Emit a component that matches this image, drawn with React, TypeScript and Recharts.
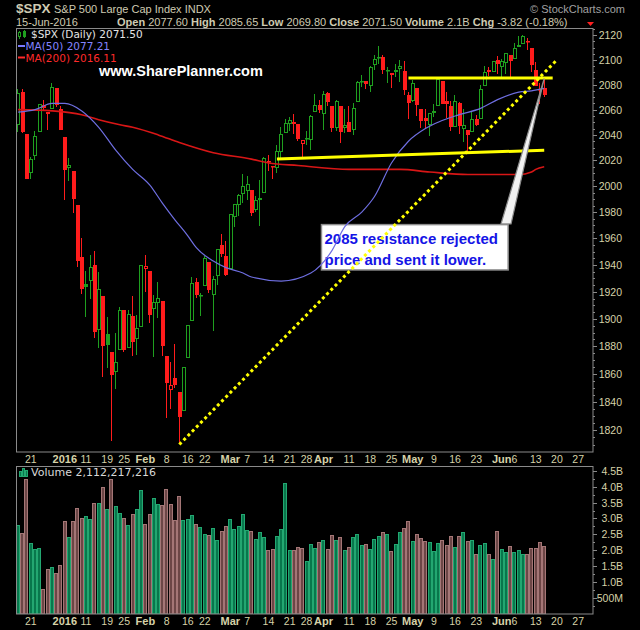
import React from "react";
import {
  ComposedChart,
  Bar,
  Line,
  XAxis,
  YAxis,
  ReferenceLine,
  ReferenceArea,
} from "recharts";

// ---------- data ----------
const tradeDates = [
  "12-16", "12-17", "12-18", "12-21", "12-22", "12-23", "12-24", "12-28", "12-29", "12-30", "12-31",
  "01-04", "01-05", "01-06", "01-07", "01-08", "01-11", "01-12", "01-13", "01-14", "01-15",
  "01-19", "01-20", "01-21", "01-22", "01-25", "01-26", "01-27", "01-28", "01-29",
  "02-01", "02-02", "02-03", "02-04", "02-05", "02-08", "02-09", "02-10", "02-11", "02-12",
  "02-16", "02-17", "02-18", "02-19", "02-22", "02-23", "02-24", "02-25", "02-26", "02-29",
  "03-01", "03-02", "03-03", "03-04", "03-07", "03-08", "03-09", "03-10", "03-11",
  "03-14", "03-15", "03-16", "03-17", "03-18", "03-21", "03-22", "03-23", "03-24",
  "03-28", "03-29", "03-30", "03-31",
  "04-01", "04-04", "04-05", "04-06", "04-07", "04-08", "04-11", "04-12", "04-13", "04-14", "04-15",
  "04-18", "04-19", "04-20", "04-21", "04-22", "04-25", "04-26", "04-27", "04-28", "04-29",
  "05-02", "05-03", "05-04", "05-05", "05-06", "05-09", "05-10", "05-11", "05-12", "05-13",
  "05-16", "05-17", "05-18", "05-19", "05-20", "05-23", "05-24", "05-25", "05-26", "05-27", "05-31",
  "06-01", "06-02", "06-03", "06-06", "06-07", "06-08", "06-09", "06-10", "06-13", "06-14", "06-15",
];
// empty sessions on the right of the axis
const futureDates = ["06-16", "06-17", "06-20", "06-21", "06-22", "06-23", "06-24", "06-27", "06-28", "06-29", "06-30"];

const opens = [
  2047.9, 2073.8, 2040.8, 2010.3, 2023.2, 2042.2, 2063.5, 2057.8, 2060.5, 2077.3, 2060.6,
  2038.2, 2013.8, 2011.7, 1985.3, 1946.0, 1926.1, 1927.8, 1940.3, 1891.7, 1916.7, 1888.7, 1876.2, 1861.5, 1877.4, 1906.3, 1878.8, 1902.5, 1885.2, 1894.0,
  1936.9, 1935.3, 1907.1, 1911.7, 1913.1, 1873.3, 1848.5, 1857.1, 1847.0, 1833.4, 1871.4, 1898.8, 1927.6, 1916.7, 1924.4, 1942.4, 1917.6, 1931.9, 1955.0, 1947.1,
  1937.1, 1976.6, 1985.6, 1994.0, 1996.1, 1996.9, 1981.4, 1991.0, 1994.7, 2019.3, 2015.3, 2014.2, 2026.9, 2041.2, 2048.6, 2048.6, 2048.6, 2032.5, 2037.9, 2035.8, 2058.3, 2063.8,
  2056.6, 2073.2, 2062.5, 2045.6, 2063.0, 2045.5, 2050.2, 2043.7, 2065.9, 2082.9, 2083.1, 2078.8, 2096.1, 2101.5, 2102.1, 2091.5, 2089.4, 2089.8, 2092.6, 2090.9, 2071.8,
  2067.2, 2077.2, 2060.3, 2053.0, 2047.8, 2057.6, 2062.6, 2083.3, 2067.2, 2062.5, 2046.5, 2065.0, 2044.4, 2044.2, 2041.9, 2052.2, 2052.7, 2078.9, 2091.4, 2090.1, 2100.1,
  2093.9, 2097.7, 2104.1, 2100.8, 2110.2, 2112.7, 2115.7, 2109.6, 2091.8, 2076.7, 2077.6,
];
const highs = [
  2076.7, 2076.4, 2040.8, 2022.9, 2042.7, 2064.7, 2067.4, 2057.8, 2081.6, 2077.3, 2062.5,
  2038.2, 2021.9, 2011.7, 1985.3, 1960.4, 1935.7, 1947.4, 1950.3, 1934.5, 1916.7, 1901.4, 1876.2, 1889.9, 1908.9, 1906.3, 1906.7, 1917.0, 1903.0, 1940.2,
  1947.2, 1935.3, 1918.0, 1927.4, 1913.1, 1873.3, 1868.3, 1881.6, 1847.0, 1864.8, 1895.8, 1930.7, 1930.0, 1918.8, 1946.7, 1942.4, 1932.1, 1951.8, 1963.0, 1958.3,
  1978.4, 1986.5, 1993.7, 2009.1, 2008.2, 1996.9, 1992.7, 2005.1, 2022.4, 2024.6, 2015.9, 2032.0, 2046.2, 2052.4, 2053.9, 2056.6, 2048.6, 2036.0, 2042.7, 2055.9, 2072.2, 2067.9,
  2075.1, 2074.0, 2062.5, 2067.3, 2063.0, 2060.6, 2062.9, 2065.1, 2083.2, 2087.8, 2083.2, 2094.7, 2104.1, 2111.1, 2103.8, 2094.3, 2089.4, 2096.9, 2099.9, 2099.3, 2073.9,
  2083.4, 2077.2, 2060.3, 2060.2, 2057.7, 2064.2, 2084.9, 2083.3, 2074.0, 2066.8, 2071.9, 2065.7, 2060.6, 2044.2, 2058.4, 2055.6, 2079.7, 2094.7, 2094.3, 2099.1, 2103.5,
  2101.0, 2105.3, 2104.1, 2113.4, 2119.2, 2120.6, 2117.6, 2109.6, 2098.1, 2081.3, 2085.7,
];
const lows = [
  2042.4, 2041.7, 2005.3, 2005.9, 2020.5, 2042.2, 2058.7, 2044.2, 2060.5, 2062.0, 2043.6,
  1989.7, 2004.2, 1979.1, 1938.8, 1918.5, 1901.1, 1914.4, 1886.4, 1878.9, 1857.8, 1864.6, 1812.3, 1849.0, 1877.4, 1876.0, 1878.8, 1872.7, 1873.7, 1894.0,
  1920.0, 1897.3, 1872.2, 1900.5, 1872.7, 1828.5, 1834.9, 1850.3, 1810.1, 1833.4, 1871.4, 1898.8, 1915.1, 1902.2, 1924.4, 1919.4, 1891.0, 1925.4, 1945.8, 1931.8,
  1937.1, 1968.8, 1977.4, 1986.8, 1989.3, 1977.4, 1979.8, 1969.3, 1994.7, 2012.1, 2005.2, 2010.0, 2022.2, 2041.2, 2043.1, 2040.6, 2034.9, 2022.5, 2032.0, 2028.3, 2058.3, 2057.5,
  2044.0, 2062.6, 2042.6, 2043.1, 2033.8, 2041.7, 2041.9, 2039.7, 2065.9, 2078.1, 2076.3, 2073.7, 2091.7, 2096.3, 2088.5, 2081.2, 2077.5, 2085.8, 2082.3, 2071.6, 2052.3,
  2066.1, 2054.9, 2045.6, 2045.8, 2039.5, 2054.3, 2062.6, 2064.5, 2053.1, 2043.1, 2046.5, 2040.8, 2034.5, 2025.9, 2041.9, 2047.3, 2052.7, 2078.9, 2087.1, 2090.1, 2088.7,
  2085.1, 2088.6, 2085.4, 2100.8, 2110.2, 2112.7, 2107.7, 2090.0, 2078.5, 2064.1, 2069.8,
];
const closes = [
  2073.1, 2041.9, 2005.6, 2021.2, 2039.0, 2064.3, 2061.0, 2056.5, 2078.4, 2063.4, 2043.9,
  2012.7, 2016.7, 1990.3, 1943.1, 1922.0, 1923.7, 1938.7, 1890.3, 1921.8, 1880.3, 1881.3, 1859.3, 1869.0, 1906.9, 1877.1, 1903.6, 1883.0, 1893.4, 1940.2,
  1939.4, 1903.0, 1912.5, 1915.5, 1880.1, 1853.4, 1852.2, 1851.9, 1829.1, 1864.8, 1895.6, 1926.8, 1917.8, 1917.8, 1945.5, 1921.3, 1929.8, 1951.7, 1948.1, 1932.2,
  1978.4, 1986.5, 1993.4, 2000.0, 2001.8, 1979.3, 1989.3, 1989.6, 2022.2, 2019.6, 2015.9, 2027.2, 2040.6, 2049.6, 2051.6, 2049.8, 2036.7, 2035.9, 2037.1, 2055.0, 2064.0, 2059.7,
  2072.8, 2066.1, 2045.2, 2066.7, 2041.9, 2047.6, 2042.0, 2061.7, 2082.4, 2082.8, 2080.7, 2094.3, 2100.8, 2102.4, 2091.5, 2091.6, 2087.8, 2091.7, 2095.2, 2075.8, 2065.3,
  2081.4, 2063.4, 2051.1, 2050.6, 2057.1, 2058.7, 2084.4, 2064.5, 2064.1, 2046.6, 2066.7, 2047.2, 2047.6, 2040.0, 2052.3, 2048.0, 2076.1, 2090.5, 2090.1, 2099.1, 2097.0,
  2099.3, 2105.3, 2099.1, 2109.4, 2112.1, 2119.1, 2115.5, 2096.1, 2079.1, 2075.3, 2071.5,
];
const priorClose = 2043.4;

// volume, billions of shares
const volumes = [
  2.79, 2.54, 4.24, 2.22, 2.03, 2.06, 0.78, 1.4, 1.47, 1.28, 1.53,
  2.91, 2.41, 2.91, 3.32, 3.01, 3.07, 2.98, 3.48, 3.48, 3.98, 3.29, 4.24, 3.39, 3.17, 3.01, 2.79, 3.14, 3.29, 3.89,
  2.82, 3.14, 3.64, 3.45, 3.42, 3.92, 3.45, 2.94, 3.7, 2.94, 2.98, 3.1, 2.82, 2.73, 2.5, 2.47, 2.69, 2.32, 2.6, 2.76,
  2.98, 2.66, 2.76, 3.14, 2.63, 2.6, 2.35, 2.57, 2.41, 2.0, 2.03, 2.44, 2.66, 4.12, 2.0, 2.0, 2.09, 2.06, 1.66, 2.19, 2.06, 2.25,
  2.32, 2.03, 2.47, 2.32, 2.41, 2.0, 2.09, 2.41, 2.5, 2.16, 2.19, 2.03, 2.35, 2.44, 2.57, 2.5, 1.97, 2.19, 2.57, 2.69, 2.91,
  2.28, 2.5, 2.38, 2.28, 2.25, 1.97, 2.22, 2.32, 2.16, 2.44, 2.09, 2.44, 2.57, 2.28, 2.32, 1.87, 2.16, 2.22, 1.87, 1.72, 2.6,
  2.03, 1.94, 2.13, 1.94, 2.0, 1.87, 1.87, 2.06, 2.06, 2.25, 2.13,
];

const ma50Points: [string, number][] = [
  ["12-16", 2058], ["12-22", 2060], ["12-29", 2065], ["01-04", 2065], ["01-08", 2059],
  ["01-14", 2046], ["01-21", 2028], ["01-27", 2013], ["02-02", 2001], ["02-05", 1987],
  ["02-10", 1974], ["02-16", 1962], ["02-18", 1953], ["02-24", 1943], ["02-29", 1938],
  ["03-04", 1934], ["03-08", 1931], ["03-17", 1928], ["03-29", 1934], ["04-05", 1951],
  ["04-08", 1969], ["04-14", 1980], ["04-19", 1992], ["04-25", 2018], ["04-29", 2035],
  ["05-05", 2045], ["05-10", 2050], ["05-17", 2056], ["05-24", 2061], ["05-31", 2068],
  ["06-07", 2074], ["06-10", 2075], ["06-15", 2077],
];
const ma200Points: [string, number][] = [
  ["12-16", 2060], ["12-29", 2059], ["01-08", 2056], ["01-14", 2052], ["01-22", 2048],
  ["01-27", 2046], ["02-04", 2040], ["02-11", 2034], ["02-24", 2026], ["03-08", 2021],
  ["03-14", 2018], ["03-23", 2016], ["04-11", 2013], ["04-27", 2013], ["05-06", 2011],
  ["05-19", 2009], ["06-07", 2009], ["06-10", 2011], ["06-13", 2013], ["06-15", 2015],
];

const tickDates = [
  "12-21", "01-04", "01-11", "01-19", "01-25", "02-01", "02-08", "02-16", "02-22",
  "03-01", "03-07", "03-14", "03-21", "03-28", "04-01", "04-11", "04-18", "04-25",
  "05-02", "05-09", "05-16", "05-23", "06-01", "06-06", "06-13", "06-20", "06-27",
];
const tickTexts = [
  "21", "2016", "11", "19", "25", "Feb", "8", "16", "22",
  "Mar", "7", "14", "21", "28", "Apr", "11", "18", "25",
  "May", "9", "16", "23", "Jun", "6", "13", "20", "27",
];
const boldTicks = ["2016", "Feb", "Mar", "Apr", "May", "Jun"];

const priceLabels = [1820, 1840, 1860, 1880, 1900, 1920, 1940, 1960, 1980, 2000, 2020, 2040, 2060, 2080, 2100, 2120];
const volLabels = [0.5, 1.0, 1.5, 2.0, 2.5, 3.0, 3.5, 4.0, 4.5];

// drawn annotations
const resistance = { from: "04-29", to: "06-17", level: 2085.3 };
const support = { from: "03-16", to: "06-15", start: 2021, end: 2028 };
const trend = { from: "02-11", to: "06-20", start: 1810, end: 2100 };
const callout = { from: "04-01", to: "06-02", low: 1936.3, high: 1970.5, tip: 2085, base: 1971 };

// ---------- styling ----------
const BG = "#000000";
const FRAME = "#8a8a8a";
const AXIS_TEXT = "#d6d2a8";
const UP = "#1f9f1f";
const DOWN = "#ff1c1c";
const VOL_UP = "#08774c";
const VOL_UP_EDGE = "#23a771";
const VOL_DN = "#6c4646";
const VOL_DN_EDGE = "#a47676";
const SANS = "'Liberation Sans', Arial, sans-serif";
const DEJAVU = "'DejaVu Sans', sans-serif";

const ma50Map = new Map(ma50Points);
const ma200Map = new Map(ma200Points);
const allDates = [...tradeDates, ...futureDates];

const priceRows = allDates.map((date, i) => {
  const base = { date, ma50: ma50Map.get(date) ?? null, ma200: ma200Map.get(date) ?? null };
  if (i >= closes.length) return base;
  const prev = i > 0 ? closes[i - 1] : priorClose;
  return { ...base, open: opens[i], high: highs[i], low: lows[i], close: closes[i], up: closes[i] >= prev };
});

const volRows = allDates.map((date, i) => {
  if (i >= volumes.length) return { date, vol: null };
  const prev = i > 0 ? closes[i - 1] : priorClose;
  return { date, vol: volumes[i], up: closes[i] >= prev };
});

const priceTicks: number[] = [];
for (let v = 1810; v <= 2125; v += 5) priceTicks.push(v);
const volTicks: number[] = [];
for (let v = 0.25; v <= 4.6; v += 0.25) volTicks.push(Math.round(v * 100) / 100);

// ---------- marks ----------
const Candle = (props: any) => {
  const { x, y, width, height, payload } = props;
  if (!payload || payload.high == null || !isFinite(y) || !isFinite(height)) return <g />;
  const { open, close, high, low, up } = payload;
  const yTop = Math.min(y, y + height);
  const h = Math.abs(height);
  const k = h / Math.log(high / low);
  const py = (p: number) => yTop + k * Math.log(high / p);
  const n = Math.floor(x + width / 2);
  const color = up ? UP : DOWN;
  const top = Math.round(py(Math.max(open, close)));
  const bot = Math.round(py(Math.min(open, close)));
  const hollow = close > open;
  const wx = n + 0.5;
  return (
    <g>
      <line x1={wx} x2={wx} y1={Math.round(yTop)} y2={top} stroke={color} strokeWidth={1} />
      <line x1={wx} x2={wx} y1={bot} y2={Math.round(yTop + h)} stroke={color} strokeWidth={1} />
      <rect
        x={n - 0.5}
        y={top + 0.5}
        width={3}
        height={Math.max(bot - top - 1, 0.5)}
        fill={hollow ? BG : color}
        stroke={color}
        strokeWidth={1}
      />
    </g>
  );
};

const VolBar = (props: any) => {
  const { x, y, width, height, payload, background } = props;
  if (!payload || payload.vol == null || !isFinite(y)) return <g />;
  const cx = x + width / 2;
  const half = (background && isFinite(background.width) ? background.width : width) / 2;
  const l = Math.round(cx - half);
  const r = Math.round(cx + half);
  const t = Math.round(y);
  const b = Math.round(y + height);
  return (
    <rect
      x={l + 0.5}
      y={t + 0.5}
      width={Math.max(r - l - 1, 1)}
      height={Math.max(b - t - 0.5, 0)}
      fill={payload.up ? VOL_UP : VOL_DN}
      stroke={payload.up ? VOL_UP_EDGE : VOL_DN_EDGE}
      strokeWidth={1}
    />
  );
};

const DateTick = (props: any) => {
  const { x, y, payload } = props;
  const idx = tickDates.indexOf(payload.value);
  if (idx < 0) return <g />;
  const label = tickTexts[idx];
  const bold = boldTicks.includes(label);
  return (
    <text
      x={x}
      y={y + 11}
      textAnchor="middle"
      fill={AXIS_TEXT}
      fontSize={bold ? 11 : 10.5}
      fontWeight={bold ? 700 : 400}
      fontFamily={SANS}
    >
      {label}
    </text>
  );
};

const PriceTick = (props: any) => {
  const { x, y, payload } = props;
  const major = priceLabels.includes(payload.value);
  return (
    <g>
      <line x1={x} x2={x + (major ? 4 : 2)} y1={Math.round(y) + 0.5} y2={Math.round(y) + 0.5} stroke={FRAME} />
      {major && (
        <text x={622} y={y + 4} textAnchor="end" fill={AXIS_TEXT} fontSize={10.5} fontFamily={SANS}>
          {payload.value}
        </text>
      )}
    </g>
  );
};

const VolTick = (props: any) => {
  const { x, y, payload } = props;
  const major = volLabels.includes(payload.value);
  const label = payload.value === 0.5 ? "500M" : `${payload.value.toFixed(1)}B`;
  return (
    <g>
      <line x1={x} x2={x + (major ? 4 : 2)} y1={Math.round(y) + 0.5} y2={Math.round(y) + 0.5} stroke={FRAME} />
      {major && (
        <text x={623} y={y + 4} textAnchor="end" fill={AXIS_TEXT} fontSize={10.5} fontFamily={SANS}>
          {label}
        </text>
      )}
    </g>
  );
};

const Pointer = (props: any) => {
  const { x1, y1, x2, y2 } = props;
  if (![x1, y1, x2, y2].every((v) => isFinite(v))) return <g />;
  return (
    <polygon
      points={`${x1},${y1} ${x2 - 5},${y2} ${x2 + 5},${y2}`}
      fill="#f2f2f2"
      stroke="#8c8c8c"
      strokeWidth={1.2}
    />
  );
};

const CalloutBox = (props: any) => {
  const { x, y, width, height } = props;
  if (![x, y, width, height].every((v) => isFinite(v))) return <g />;
  return (
    <g>
      <rect x={x} y={y} width={width} height={height} fill="#ffffff" stroke="#8c8c8c" strokeWidth={1.5} />
      <text x={x + 3} y={y + 19} fill="#1414e6" fontSize={15} fontWeight={700} fontFamily={SANS}>
        2085 resistance rejected
      </text>
      <text x={x + 3} y={y + 40} fill="#1414e6" fontSize={15} fontWeight={700} fontFamily={SANS}>
        price and sent it lower.
      </text>
    </g>
  );
};

export default function App() {
  return (
    <div style={{ position: "absolute", left: 0, top: 0, width: 640, height: 630, background: BG, overflow: "hidden" }}>
      <div style={{ position: "absolute", left: 0, top: 0 }}>
        <ComposedChart width={640} height={468} data={priceRows} margin={{ top: 28, right: 0, bottom: 0, left: 16 }}>
          <XAxis
            dataKey="date"
            height={16}
            ticks={tickDates}
            interval={0}
            tick={<DateTick />}
            tickSize={0}
            tickMargin={0}
            axisLine={false}
            tickLine={false}
          />
          <YAxis
            orientation="right"
            width={47}
            scale="log"
            domain={[1804.8, 2126]}
            allowDataOverflow
            ticks={priceTicks}
            interval={0}
            tick={<PriceTick />}
            tickSize={0}
            tickMargin={0}
            axisLine={false}
            tickLine={false}
          />
          <Line dataKey="ma200" stroke="#d81616" strokeWidth={1.6} dot={false} connectNulls type="monotone" isAnimationActive={false} />
          <Line dataKey="ma50" stroke="#6e6ee0" strokeWidth={1.2} dot={false} connectNulls type="monotone" isAnimationActive={false} />
          <Bar
            dataKey={(d: any) => (d.high == null ? null : [d.low, d.high])}
            shape={<Candle />}
            isAnimationActive={false}
          />
          <ReferenceLine
            segment={[{ x: support.from, y: support.start }, { x: support.to, y: support.end }]}
            stroke="#ffff00"
            strokeWidth={3}
          />
          <ReferenceLine
            segment={[{ x: resistance.from, y: resistance.level }, { x: resistance.to, y: resistance.level }]}
            stroke="#ffff00"
            strokeWidth={3}
          />
          <ReferenceLine
            segment={[{ x: trend.from, y: trend.start }, { x: trend.to, y: trend.end }]}
            stroke="#ffff00"
            strokeWidth={3}
            strokeDasharray="3 3"
          />
          <ReferenceLine
            segment={[{ x: "06-15", y: callout.tip }, { x: callout.to, y: callout.base }]}
            shape={(p: any) => <Pointer {...p} />}
          />
          <ReferenceArea
            x1={callout.from}
            x2={callout.to}
            y1={callout.low}
            y2={callout.high}
            shape={(p: any) => <CalloutBox {...p} />}
          />
        </ComposedChart>
      </div>

      <div style={{ position: "absolute", left: 0, top: 466 }}>
        <ComposedChart
          width={640}
          height={164}
          data={volRows}
          margin={{ top: 0, right: 0, bottom: 0, left: 16 }}
          barCategoryGap="0%"
          barGap={0}
        >
          <XAxis
            dataKey="date"
            height={16}
            ticks={tickDates}
            interval={0}
            tick={<DateTick />}
            tickSize={0}
            tickMargin={0}
            axisLine={false}
            tickLine={false}
          />
          <YAxis
            orientation="right"
            width={47}
            domain={[0, 4.648]}
            allowDataOverflow
            ticks={volTicks}
            interval={0}
            tick={<VolTick />}
            tickSize={0}
            tickMargin={0}
            axisLine={false}
            tickLine={false}
          />
          <Bar dataKey="vol" shape={<VolBar />} isAnimationActive={false} />
        </ComposedChart>
      </div>

      <svg width={640} height={630} style={{ position: "absolute", left: 0, top: 0, pointerEvents: "none" }}>
        <rect x={16.5} y={28.5} width={576.5} height={423.5} fill="none" stroke={FRAME} strokeWidth={1} />
        <rect x={16.5} y={466.5} width={576.5} height={147.5} fill="none" stroke={FRAME} strokeWidth={1} />

        <text x={16} y={13} fill="#cfcbb2" fontSize={13.5} fontWeight={700} fontFamily={SANS}>$SPX</text>
        <text x={54} y={13} fill="#cfcbb2" fontSize={11} fontFamily={SANS}>S&amp;P 500 Large Cap Index INDX</text>
        <text x={625} y={13} textAnchor="end" fill="#a0a0a0" fontSize={11} fontFamily={SANS}>© StockCharts.com</text>
        <text x={16} y={26} fill="#cfcbb2" fontSize={11} fontFamily={SANS}>15-Jun-2016</text>
        <text x={117} y={26} fill="#cfcbb2" fontSize={11} fontFamily={SANS}>
          <tspan fontWeight={700}>Open</tspan> 2077.60 <tspan fontWeight={700}>High</tspan> 2085.65{" "}
          <tspan fontWeight={700}>Low</tspan> 2069.80 <tspan fontWeight={700}>Close</tspan> 2071.50{" "}
          <tspan fontWeight={700}>Volume</tspan> 2.1B <tspan fontWeight={700}>Chg</tspan> -3.82 (-0.18%)
        </text>
        <polygon points="587,22 594,22 590.5,26" fill="#ff2020" />

        <line x1={19.5} x2={19.5} y1={31} y2={39} stroke={UP} />
        <rect x={18.5} y={32.5} width={2} height={4} fill={BG} stroke={UP} />
        <line x1={24.5} x2={24.5} y1={30} y2={38} stroke={UP} />
        <rect x={23.5} y={31.5} width={2} height={5} fill={UP} stroke={UP} />
        <text x={31} y={38} fill="#e4e4e4" fontSize={10.5} fontFamily={DEJAVU}>$SPX (Daily) 2071.50</text>
        <line x1={18} x2={25} y1={46} y2={46} stroke="#7a7aff" strokeWidth={2} />
        <text x={25.5} y={50} fill="#8484ff" fontSize={10.5} fontFamily={DEJAVU}>MA(50) 2077.21</text>
        <line x1={18} x2={25} y1={57.5} y2={57.5} stroke="#ff2a2a" strokeWidth={2} />
        <text x={25.5} y={61.5} fill="#ff2a2a" fontSize={10.5} fontFamily={DEJAVU}>MA(200) 2016.11</text>

        <text x={99} y={76} fill="#ffffff" fontSize={14.5} fontWeight={700} fontFamily={SANS}>www.SharePlanner.com</text>

        <rect x={19.5} y={471.5} width={2} height={5} fill={VOL_UP} stroke={VOL_UP_EDGE} />
        <rect x={22.5} y={468.5} width={2} height={8} fill={VOL_UP} stroke={VOL_UP_EDGE} />
        <rect x={25.5} y={470.5} width={2} height={6} fill={VOL_UP} stroke={VOL_UP_EDGE} />
        <text x={31} y={476} fill="#d8d8d8" fontSize={11} fontFamily={DEJAVU}>Volume 2,112,217,216</text>
      </svg>
    </div>
  );
}
